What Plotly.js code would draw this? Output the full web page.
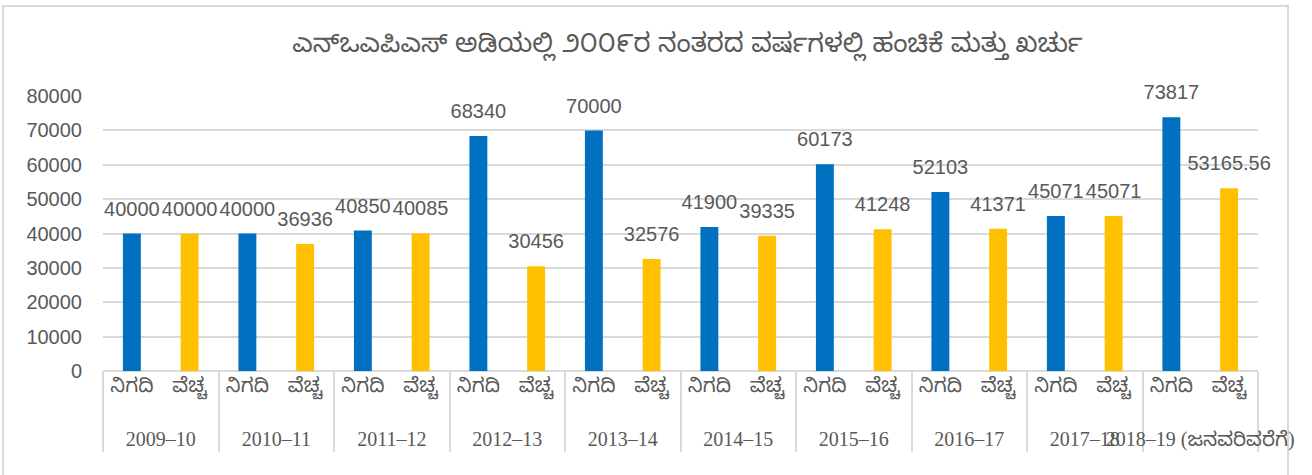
<!DOCTYPE html>
<html>
<head>
<meta charset="utf-8">
<script src="https://cdn.plot.ly/plotly-3.0.1.min.js"></script>
<style>
  html, body { margin: 0; padding: 0; background: #ffffff; }
  #frame { position: absolute; left: 2px; top: 5px; width: 1287px; height: 520px;
           border: 2px solid #d9d9d9; box-sizing: border-box; }
  #chart { position: absolute; left: 0; top: 0; width: 1312px; height: 475px; }
</style>
</head>
<body>
<div id="frame"></div>
<div id="chart"></div>
<script>
const years = ['2009–10', '2010–11', '2011–12', '2012–13', '2013–14',
               '2014–15', '2015–16', '2016–17', '2017–18', '2018–19 (ಜನವರಿವರೆಗೆ)'];
const subLabels = ['ನಿಗದಿ', 'ವೆಚ್ಚ'];
const allocation  = [40000, 40000, 40850, 68340, 70000, 41900, 60173, 52103, 45071, 73817];
const expenditure = [40000, 36936, 40085, 30456, 32576, 39335, 41248, 41371, 45071, 53165.56];
const seriesColors = ['#0070C0', '#FFC000'];
const titleText = 'ಎನ್‌ಒಎಪಿಎಸ್ ಅಡಿಯಲ್ಲಿ ೨೦೦೯ರ ನಂತರದ ವರ್ಷಗಳಲ್ಲಿ ಹಂಚಿಕೆ ಮತ್ತು ಖರ್ಚು';

const xOuter = [], xInner = [], yVals = [], colors = [], labels = [];
years.forEach((yr, i) => {
  [allocation[i], expenditure[i]].forEach((v, j) => {
    xOuter.push('<br>' + yr);   // extra line pushes the year row lower
    xInner.push(subLabels[j]);
    yVals.push(v);
    colors.push(seriesColors[j]);
    labels.push(String(v));
  });
});

const grey = '#595959';
const bars = {
  type: 'bar',
  x: [xOuter, xInner],
  y: yVals,
  marker: { color: colors, line: { width: 0 } },
  width: 0.31,
  hoverinfo: 'x+y',
  showlegend: false
};
const texts = {
  type: 'scatter',
  mode: 'markers+text',
  x: [xOuter, xInner],
  y: yVals,
  text: labels,
  textposition: 'top center',
  textfont: { family: 'Liberation Sans, Arial, sans-serif', size: 20, color: grey },
  marker: { size: 19, opacity: 0 },
  cliponaxis: false,
  hoverinfo: 'skip',
  showlegend: false
};

const layout = {
  width: 1312, height: 475,
  margin: { l: 103, r: 54, t: 96, b: 104 },
  paper_bgcolor: 'rgba(0,0,0,0)',
  plot_bgcolor: 'rgba(0,0,0,0)',
  title: {
    text: titleText,
    font: { family: 'Noto Sans Kannada, Noto Sans, sans-serif', size: 26, color: grey },
    x: 0.524, xanchor: 'center', y: 0.91, yanchor: 'middle'
  },
  barmode: 'overlay',
  xaxis: {
    type: 'multicategory',
    range: [-0.5, 19.5],
    autorange: false,
    showgrid: false,
    showline: false,
    ticks: '',
    tickangle: 0,
    tickfont: { family: 'Liberation Serif, Noto Sans Kannada, serif', size: 20, color: grey },
    showdividers: true,
    dividercolor: '#d9d9d9',
    dividerwidth: 2,
    fixedrange: true
  },
  yaxis: {
    range: [0, 80000],
    dtick: 10000,
    tickformat: 'd',
    showgrid: true,
    gridcolor: '#d9d9d9',
    gridwidth: 2,
    zeroline: true,
    zerolinecolor: '#d9d9d9',
    zerolinewidth: 2,
    showline: false,
    ticks: '',
    ticklabelstandoff: 20,
    tickfont: { family: 'Liberation Sans, Arial, sans-serif', size: 20, color: grey },
    fixedrange: true
  },
  showlegend: false
};

Plotly.newPlot('chart', [bars, texts], layout, { displayModeBar: false, staticPlot: true });
</script>
</body>
</html>
